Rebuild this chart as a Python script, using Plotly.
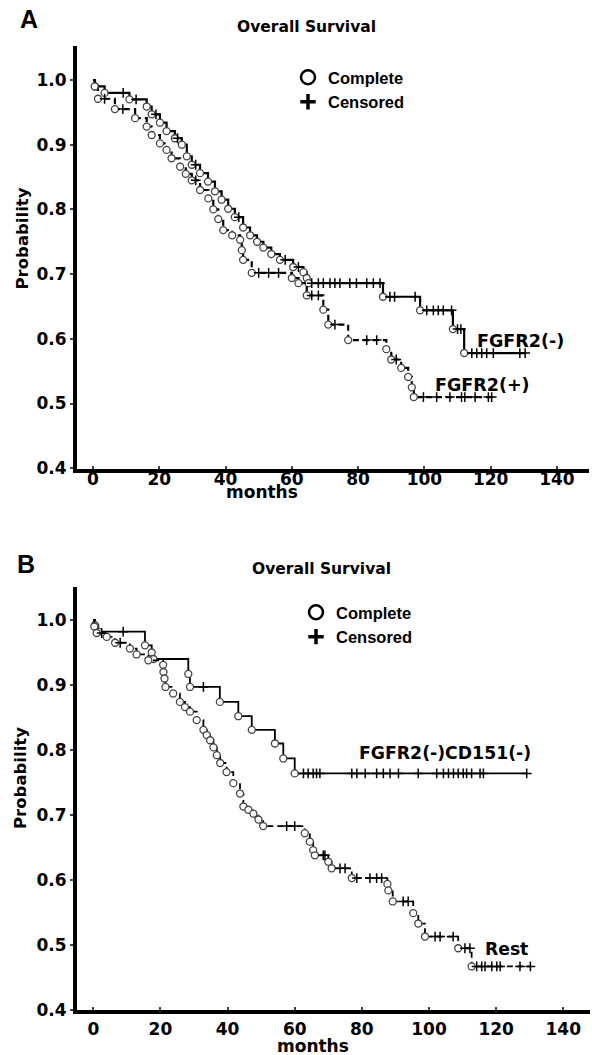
import plotly.graph_objects as go

# ---------------- data ----------------
x_ticks = [0, 20, 40, 60, 80, 100, 120, 140]
y_ticks = [0.4, 0.5, 0.6, 0.7, 0.8, 0.9, 1.0]

# Panel A: FGFR2(-)
a_neg_event_t = [0.6, 3.5, 11, 16.2, 17.7, 20.2, 22.2, 24.7, 26.8, 28.3, 29.8, 32.3, 34.7, 36.8, 38.8,
                 40.8, 42.8, 45.3, 47.4, 49.5, 51.4, 53.8, 56.4, 60.4, 63.5, 64.5, 65, 87.5, 98.7, 108.6, 112]
a_neg_event_s = [0.99, 0.98, 0.97, 0.959, 0.947, 0.934, 0.921, 0.91, 0.90, 0.882, 0.869, 0.856, 0.843, 0.828, 0.815,
                 0.801, 0.788, 0.772, 0.76, 0.75, 0.741, 0.731, 0.722, 0.711, 0.703, 0.694, 0.686, 0.665, 0.644, 0.615, 0.578]
a_neg_cens_t = [9.1, 13, 19, 25.5, 31, 44, 58, 62, 66, 68, 69.5, 71.5, 73, 74.5, 77.5, 79.5, 82.6, 84.6, 86.6,
                89.6, 91, 97.2, 100.7, 102.7, 104.2, 105.7, 108.2, 110, 111,
                114.3, 115.8, 117.3, 118.8, 120.8, 128.8, 130.4]

# Panel A: FGFR2(+)
a_pos_event_t = [0.5, 1.5, 6.6, 12.7, 16.2, 17.7, 20.2, 22.2, 23.7, 26.3, 28, 29.8, 32.3, 34.8, 36.3, 37.8,
                 39.3, 42, 44.4, 44.9, 45.3, 47.9, 60, 62, 64.5, 69.5, 71, 77, 88.5, 90, 93, 95.1, 96.2, 96.8]
a_pos_event_s = [0.99, 0.971, 0.955, 0.941, 0.928, 0.915, 0.902, 0.892, 0.879, 0.866, 0.855, 0.845, 0.83, 0.817,
                 0.80, 0.785, 0.768, 0.76, 0.753, 0.737, 0.722, 0.702, 0.694, 0.686, 0.667, 0.645, 0.622, 0.598,
                 0.584, 0.568, 0.555, 0.541, 0.525, 0.51]
a_pos_cens_t = [3.5, 9, 31, 50, 53, 56, 66, 68, 73, 82.6, 85.6, 91.5,
                99.7, 103.7, 107.7, 111.2, 112.2, 115.3, 119.3, 120.3]

# Panel B: FGFR2(-)CD151(-)
b_neg_event_t = [0.5, 1.5, 15.4, 17.4, 17.9, 28.3, 28.8, 37.7, 43.2, 47.2, 54.1, 56.6, 60]
b_neg_event_s = [0.992, 0.982, 0.961, 0.95, 0.94, 0.917, 0.897, 0.874, 0.852, 0.831, 0.81, 0.787, 0.764]
b_neg_cens_t = [8.9, 32.8, 62.6, 64, 65.5, 66.5, 67.5, 77, 78.5, 81, 84.4, 86.4, 88.4, 90.9, 96.8,
                102.3, 104.3, 105.8, 107.3, 108.7, 110.2, 111.2, 112.7, 115.2, 116.2, 129.1]

# Panel B: Rest
b_rest_event_t = [0.3, 1, 4, 6.5, 10.9, 12.9, 16.4, 20.8, 20.9, 21.2, 21.5, 23.8, 25.8, 27.3, 28.8, 30.8,
                  32.8, 33.8, 34.8, 35.8, 36.8, 37.8, 39.7, 41.7, 43.7, 44.7, 46.2, 47.7, 49.2, 50.6,
                  63, 64.5, 65.5, 66, 70, 71, 77, 87.6, 87.9, 89.2, 95.3, 96.8, 98.8, 108.7, 112.7]
b_rest_event_s = [0.99, 0.98, 0.974, 0.965, 0.956, 0.947, 0.938, 0.931, 0.92, 0.91, 0.897, 0.887, 0.874, 0.866,
                  0.859, 0.846, 0.831, 0.823, 0.815, 0.804, 0.792, 0.78, 0.766, 0.749, 0.733, 0.713, 0.708,
                  0.702, 0.693, 0.683, 0.672, 0.659, 0.646, 0.638, 0.628, 0.618, 0.603, 0.594, 0.584, 0.567,
                  0.549, 0.533, 0.513, 0.495, 0.467]
b_rest_cens_t = [2.5, 8, 57.6, 60, 68.5, 69, 73.5, 75, 78.5, 82.4, 84.4, 85.9, 92.3, 93.8, 101.8, 103.3,
                 107.2, 110.7, 112.2, 114.2, 115.7, 116.7, 118.7, 120.2, 121.2, 127.1, 130.2]


# ---------------- helpers ----------------
def surv_at(t, ev_t, ev_s):
    s = 1.0
    for et, es in zip(ev_t, ev_s):
        if et <= t:
            s = es
    return s


def km_path(ev_t, ev_s, cens_t):
    pts = [(0.0, 1.0)] + list(zip(ev_t, ev_s)) + [(c, surv_at(c, ev_t, ev_s)) for c in cens_t]
    pts.sort(key=lambda p: p[0])
    return [p[0] for p in pts], [p[1] for p in pts]


W, H = 592, 1055      # target picture size (layout positions are fractions of this)
FIG_H = 1065          # figure height (the capture is fitted to 1055 px high)


def px(xp):
    return xp / W


def py(yp):
    return 1 - yp / H


FONT = "DejaVu Sans"
LEG_FONT = "Liberation Sans"

fig = go.Figure()


def add_curve(ev_t, ev_s, cens_t, xa, ya, dash, lw):
    xs, ys = km_path(ev_t, ev_s, cens_t)
    fig.add_trace(go.Scatter(x=xs, y=ys, mode="lines", line=dict(color="black", width=lw, dash=dash, shape="hv"),
                             xaxis=xa, yaxis=ya, showlegend=False, hoverinfo="skip"))
    fig.add_trace(go.Scatter(x=ev_t, y=ev_s, mode="markers",
                             marker=dict(symbol="circle", size=7, color="white",
                                         line=dict(color="#444", width=1.3)),
                             xaxis=xa, yaxis=ya, showlegend=False))
    fig.add_trace(go.Scatter(x=cens_t, y=[surv_at(c, ev_t, ev_s) for c in cens_t], mode="markers",
                             marker=dict(symbol="cross-thin", size=7, line=dict(color="black", width=1.5)),
                             xaxis=xa, yaxis=ya, showlegend=False))


add_curve(a_neg_event_t, a_neg_event_s, a_neg_cens_t, "x", "y", "solid", 2.2)
add_curve(a_pos_event_t, a_pos_event_s, a_pos_cens_t, "x", "y", "6px,4px", 2.2)
add_curve(b_neg_event_t, b_neg_event_s, b_neg_cens_t, "x2", "y2", "solid", 1.8)
add_curve(b_rest_event_t, b_rest_event_s, b_rest_cens_t, "x2", "y2", "6px,4px", 1.8)

# legend entries
for leg, xa, ya in [("legend", "x", "y"), ("legend2", "x2", "y2")]:
    fig.add_trace(go.Scatter(x=[None], y=[None], mode="markers", name="Complete", legend=leg, legendgroup=leg + "c",
                             marker=dict(symbol="circle-open", size=14, color="black", line=dict(width=2.5)),
                             xaxis=xa, yaxis=ya))
    fig.add_trace(go.Scatter(x=[None], y=[None], mode="markers", name="Censored", legend=leg, legendgroup=leg + "k",
                             marker=dict(symbol="cross-thin", size=11, color="black", line=dict(width=3.5, color="black")),
                             xaxis=xa, yaxis=ya))

# ---------------- axes ----------------
tick_font = dict(family=FONT, size=17, color="black", weight="bold")

A = dict(l=77, r=589, t=46, b=469, x0=93, sx=3.314, y1=80, sy=647, stand=-8)
B = dict(l=77, r=590, t=587, b=1010, x0=93.3, sx=3.357, y1=620, sy=650, stand=1)


def ranges(P):
    xr = [(P["l"] - P["x0"]) / P["sx"], (P["r"] - P["x0"]) / P["sx"]]
    yr = [1 - (P["b"] - P["y1"]) / P["sy"], 1 - (P["t"] - P["y1"]) / P["sy"]]
    return xr, yr


layout_axes = {}
for P, n, ntop in [(A, "", "3"), (B, "2", "4")]:
    xr, yr = ranges(P)
    xd = [px(P["l"]), px(P["r"])]
    yd = [py(P["b"]), py(P["t"])]
    xname = "x" + n
    yname = "y" + n
    layout_axes["xaxis" + n] = dict(domain=xd, range=xr, anchor=yname, tickvals=x_ticks, ticks="inside", ticklen=3,
                                    tickwidth=1.5, showline=True, linewidth=4, linecolor="black", showgrid=False,
                                    zeroline=False, tickfont=tick_font, ticklabelstandoff=P["stand"])
    layout_axes["yaxis" + n] = dict(domain=yd, range=yr, anchor=xname, tickvals=y_ticks, tickformat=".1f",
                                    ticks="outside", ticklen=3, tickwidth=1.5, showline=True, linewidth=4,
                                    linecolor="black", showgrid=False, zeroline=False, tickfont=tick_font)
    layout_axes["xaxis" + ntop] = dict(overlaying=xname, side="top", anchor=yname, range=xr, tickvals=x_ticks,
                                       ticks="inside", ticklen=3, showline=True, linewidth=1, linecolor="#888",
                                       tickcolor="#666", showticklabels=False, showgrid=False, zeroline=False)
    layout_axes["yaxis" + ntop] = dict(overlaying=yname, side="right", anchor=xname, range=yr, tickvals=y_ticks,
                                       ticks="inside", ticklen=3, showline=True, linewidth=1, linecolor="#888",
                                       tickcolor="#666", showticklabels=False, showgrid=False, zeroline=False)

bold = lambda s: dict(family=FONT, size=s, color="black", weight="bold")
C = dict(xref="paper", yref="paper", showarrow=False, xanchor="center", yanchor="middle")

annotations = [
    dict(text="A", x=px(29), y=py(19), font=dict(family=LEG_FONT, size=25, color="black", weight="bold"), **C),
    dict(text="B", x=px(26), y=py(564), font=dict(family=LEG_FONT, size=25, color="black", weight="bold"), **C),
    dict(text="Overall Survival", x=px(306.5), y=py(27.5), font=bold(15.5), **C),
    dict(text="Overall Survival", x=px(321), y=py(569), font=bold(15.5), **C),
    dict(text="Probability", x=px(22), y=py(238.5), textangle=-90, font=bold(16.5), **C),
    dict(text="Probability", x=px(20.5), y=py(778.5), textangle=-90, font=bold(16.5), **C),
    dict(text="months", x=px(262), y=py(492), font=bold(17), **C),
    dict(text="months", x=px(312.5), y=py(1046), font=bold(17), **C),
    dict(text="FGFR2(-)", x=115.3, y=0.597, xref="x", yref="y", xanchor="left", yanchor="middle",
         showarrow=False, font=bold(17.5)),
    dict(text="FGFR2(+)", x=102.7, y=0.529, xref="x", yref="y", xanchor="left", yanchor="middle",
         showarrow=False, font=bold(17.5)),
    dict(text="FGFR2(-)CD151(-)", x=78.5, y=0.796, xref="x2", yref="y2", xanchor="left", yanchor="middle",
         showarrow=False, font=bold(17.3)),
    dict(text="Rest", x=116.2, y=0.494, xref="x2", yref="y2", xanchor="left", yanchor="middle",
         showarrow=False, font=bold(17.2)),
]

leg_common = dict(xanchor="left", yanchor="top", bgcolor="rgba(0,0,0,0)", borderwidth=0,
                  font=dict(family=LEG_FONT, size=16.5, color="black", weight="bold"),
                  itemsizing="trace", tracegroupgap=0)

fig.update_layout(
    width=W, height=FIG_H, margin=dict(l=0, r=0, t=0, b=0),
    paper_bgcolor="white", plot_bgcolor="white",
    annotations=annotations,
    legend=dict(x=px(288), y=py(60), **leg_common),
    legend2=dict(x=px(296), y=py(595), **leg_common),
    **layout_axes,
)

page_fix = "document.body.style.margin='0px'; document.body.style.padding='0px';"

fig.write_html("out.html", config={"displayModeBar": False}, post_script=page_fix)
